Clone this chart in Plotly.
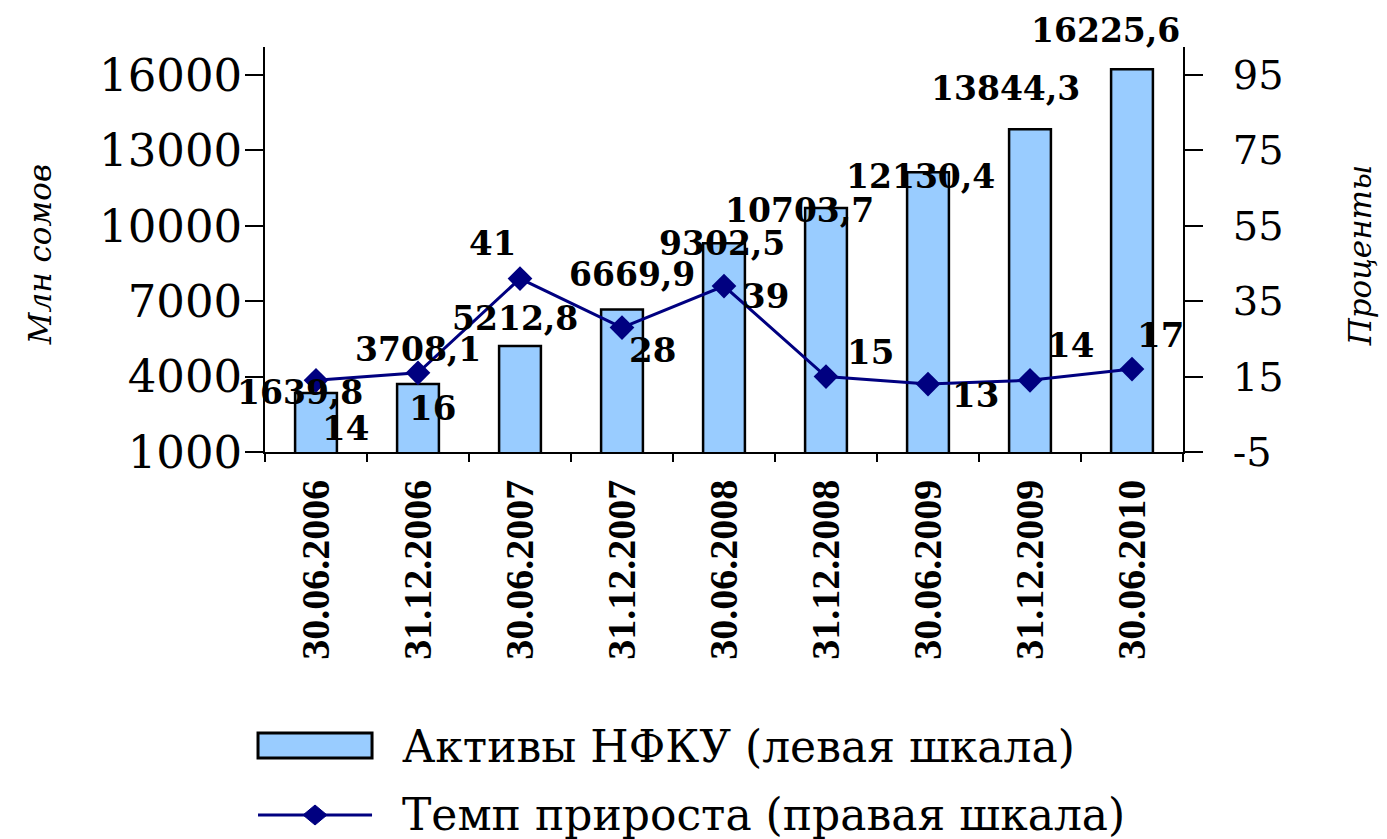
import plotly.graph_objects as go

# ---------------- data ----------------
categories = ["30.06.2006", "31.12.2006", "30.06.2007", "31.12.2007", "30.06.2008",
              "31.12.2008", "30.06.2009", "31.12.2009", "30.06.2010"]
assets = [3350, 3708.1, 5212.8, 6669.9, 9302.5, 10703.7, 12130.4, 13844.3, 16225.6]
asset_labels = ["1639,8", "3708,1", "5212,8", "6669,9", "9302,5", "10703,7", "12130,4", "13844,3", "16225,6"]
growth = [14, 16, 41, 28, 39, 15, 13, 14, 17]
growth_labels = ["14", "16", "41", "28", "39", "15", "13", "14", "17"]
left_ticks = [1000, 4000, 7000, 10000, 13000, 16000]
left_ticktext = ["1000", "4000", "7000", "10000", "13000", "16000"]
right_ticks = [-5, 15, 35, 55, 75, 95]
right_ticktext = ["-5", "15", "35", "55", "75", "95"]
series_names = ["Активы НФКУ (левая шкала)", "Темп прироста (правая шкала)"]
left_title = "Млн сомов"
right_title = "Проценты"

# ---------------- label offsets (pixels) ----------------
asset_shift = [(-16, 0), (0, 34), (-5, 28), (10, 35), (-2, 0), (-27, -2), (-8, -4), (-25, 41), (-27, 39)]
growth_shift = [(29, -48), (14, -35), (-28, 36), (30, -22), (41, -10), (44, 25), (47, -11), (40, 35), (28, 34)]

BAR_COLOR = "#99CCFF"
LINE_COLOR = "#000080"
SERIF = "Liberation Serif"
WIDE_SERIF = "DejaVu Serif"

fig = go.Figure()
fig.add_trace(go.Bar(
    x=categories, y=assets, name=series_names[0], width=0.41,
    marker=dict(color=BAR_COLOR, line=dict(color="black", width=2.5)),
    yaxis="y", showlegend=False,
))
fig.add_trace(go.Scatter(
    x=categories, y=growth, name=series_names[1], mode="lines+markers",
    line=dict(color=LINE_COLOR, width=3),
    marker=dict(symbol="diamond", size=19, color=LINE_COLOR),
    yaxis="y2", showlegend=False,
))

annotations = []
for c, v, t, (dx, dy) in zip(categories, assets, asset_labels, asset_shift):
    annotations.append(dict(x=c, y=v, xref="x", yref="y", text=t, showarrow=False,
                            xshift=dx, yshift=dy,
                            font=dict(family=WIDE_SERIF, size=33, color="black", weight="bold")))
for c, v, t, (dx, dy) in zip(categories, growth, growth_labels, growth_shift):
    annotations.append(dict(x=c, y=v, xref="x", yref="y2", text=t, showarrow=False,
                            xshift=dx, yshift=dy,
                            font=dict(family=WIDE_SERIF, size=34, color="black", weight="bold")))

# axis titles
annotations.append(dict(x=-0.245, y=0.486, xref="paper", yref="paper", text=left_title,
                        textangle=-90, showarrow=False, xanchor="center", yanchor="middle",
                        font=dict(family=WIDE_SERIF, size=31, color="black", style="italic")))
annotations.append(dict(x=1.193, y=0.486, xref="paper", yref="paper", text=right_title,
                        textangle=-90, showarrow=False, xanchor="center", yanchor="middle",
                        font=dict(family=WIDE_SERIF, size=31, color="black", style="italic")))

# manual legend
annotations.append(dict(x=0.147, y=-0.726, xref="paper", yref="paper", text=series_names[0],
                        xanchor="left", yanchor="middle", showarrow=False,
                        font=dict(family=WIDE_SERIF, size=44, color="black")))
annotations.append(dict(x=0.147, y=-0.896, xref="paper", yref="paper", text=series_names[1],
                        xanchor="left", yanchor="middle", showarrow=False,
                        font=dict(family=WIDE_SERIF, size=44, color="black")))

shapes = [
    dict(type="rect", xref="paper", yref="paper", x0=-0.0076, x1=0.1166, y0=-0.7556, y1=-0.6938,
         fillcolor=BAR_COLOR, line=dict(color="black", width=3)),
    dict(type="line", xref="paper", yref="paper", x0=-0.0076, x1=0.1166, y0=-0.8963, y1=-0.8963,
         line=dict(color=LINE_COLOR, width=3)),
    dict(type="path", xref="paper", yref="paper", xsizemode="pixel", ysizemode="pixel",
         xanchor=0.0545, yanchor=-0.8963, path="M -12 0 L 0 10 L 12 0 L 0 -10 Z",
         fillcolor=LINE_COLOR, line=dict(color=LINE_COLOR, width=1)),
]

n = len(categories)
boundaries = [i - 0.5 for i in range(n + 1)]
yr = [1000, 17114]
y2r = [-5, 102.4]

fig.update_layout(
    width=1379, height=831,
    margin=dict(l=257, r=204, t=39, b=387),
    plot_bgcolor="white", paper_bgcolor="white",
    showlegend=False, bargap=0.5,
    font=dict(family=SERIF, color="black"),
    xaxis=dict(type="category", categoryarray=categories, range=[-0.5, n - 0.5],
               tickson="boundaries", ticks="outside", ticklen=8, tickwidth=1.5, tickcolor="black",
               showline=True, linecolor="black", linewidth=1.5, showgrid=False, zeroline=False,
               tickangle=-90, ticklabelstandoff=10,
               tickfont=dict(family=SERIF, size=40, color="black", weight="bold")),
    xaxis2=dict(overlaying="x", anchor="y", range=[-0.5, n - 0.5], tickvals=boundaries,
                ticks="inside", ticklen=14, tickwidth=1.5, tickcolor="black",
                showticklabels=False, showline=False, showgrid=False, zeroline=False),
    yaxis=dict(range=yr, tickvals=left_ticks, ticktext=left_ticktext, ticks="outside", ticklen=18,
               tickwidth=1.5, tickcolor="black", showline=True, linecolor="black", linewidth=1.5,
               showgrid=False, zeroline=False, ticklabelstandoff=-6,
               tickfont=dict(family=WIDE_SERIF, size=45, color="black")),
    yaxis3=dict(overlaying="y", range=yr, tickvals=left_ticks, ticks="inside", ticklen=16,
                tickwidth=1.5, tickcolor="black", showticklabels=False, showline=False,
                showgrid=False, zeroline=False),
    yaxis2=dict(overlaying="y", side="right", range=y2r, tickvals=right_ticks,
                ticktext=right_ticktext, ticks="outside",
                ticklen=18, tickwidth=1.5, tickcolor="black", showline=True, linecolor="black",
                linewidth=1.5, showgrid=False, zeroline=False, ticklabelstandoff=22,
                tickfont=dict(family=WIDE_SERIF, size=40, color="black")),
    yaxis4=dict(overlaying="y", side="right", range=y2r, tickvals=right_ticks, ticks="inside",
                ticklen=16, tickwidth=1.5, tickcolor="black", showticklabels=False,
                showline=False, showgrid=False, zeroline=False),
    annotations=annotations,
    shapes=shapes,
)

fig.write_html("out.html")
